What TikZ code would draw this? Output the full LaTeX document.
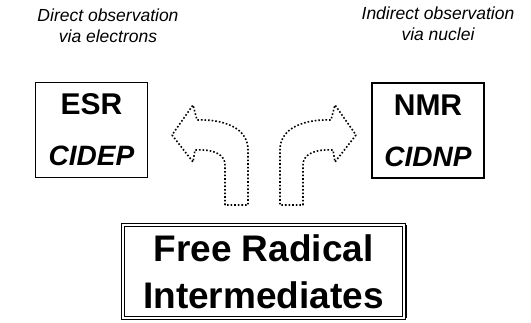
\documentclass[tikz,border=0pt]{standalone}
\usepackage{fontspec}
\setmainfont{Liberation Sans}
\usetikzlibrary{positioning, calc}

\newcommand{\methodsub}[1]{\fontsize{28}{51}\selectfont\textit{#1}}

\begin{document}
\begin{tikzpicture}[
    x=1pt, y=-1pt,
    obs_label/.style = {align=center, inner sep=0pt, font=\fontsize{17.5}{21}\selectfont\itshape},
    method_box/.style = {draw, line width=1.2pt, minimum width=112pt, minimum height=95pt, align=center, inner sep=0pt, font=\fontsize{30}{51}\selectfont\bfseries},
    radical_box/.style = {draw, double, line width=0.8pt, double distance=2pt, minimum width=281pt, minimum height=93pt, align=center, inner sep=0pt, font=\fontsize{37}{47}\selectfont\bfseries},
    dot_arrow/.style = {line width=1.6pt, dash pattern=on 1.6pt off 2pt, line join=round}
]
\useasboundingbox (0,0) rectangle (531,322);

% --- Hàng trên: nhãn quan sát ---
\node[obs_label] (direct_label) at (108,26) {Direct observation\\via electrons};
\node[obs_label] (indirect_label) at (438,24) {Indirect observation\\via nuclei};

% --- Hộp phương pháp ---
\node[method_box] (esr) at (91.5,130) {ESR\\\methodsub{CIDEP}};
\node[method_box] (nmr) at (428,130.5) {NMR\\\methodsub{CIDNP}};

% --- Mũi tên cong (dotted) ---
\foreach \dir in {1,-1}
  \draw[dot_arrow, xshift=264pt, xscale=\dir] (-39,205) -- (-39,165)
      .. controls (-39,155) and (-49,149) .. (-69,150)
      -- (-71,162) -- (-92,135) -- (-71,105) -- (-67,120)
      .. controls (-40,119) and (-16,128) .. (-16,150)
      -- (-16,205) -- cycle;

% --- Hộp dưới: Free Radical Intermediates ---
\node[radical_box] (radical) at (263.5,271.5) {Free Radical\\Intermediates};
\draw[line width=2pt] ([xshift=1.2pt]radical.north east) -- ([xshift=1.2pt]radical.south east);

\end{tikzpicture}
\end{document}
